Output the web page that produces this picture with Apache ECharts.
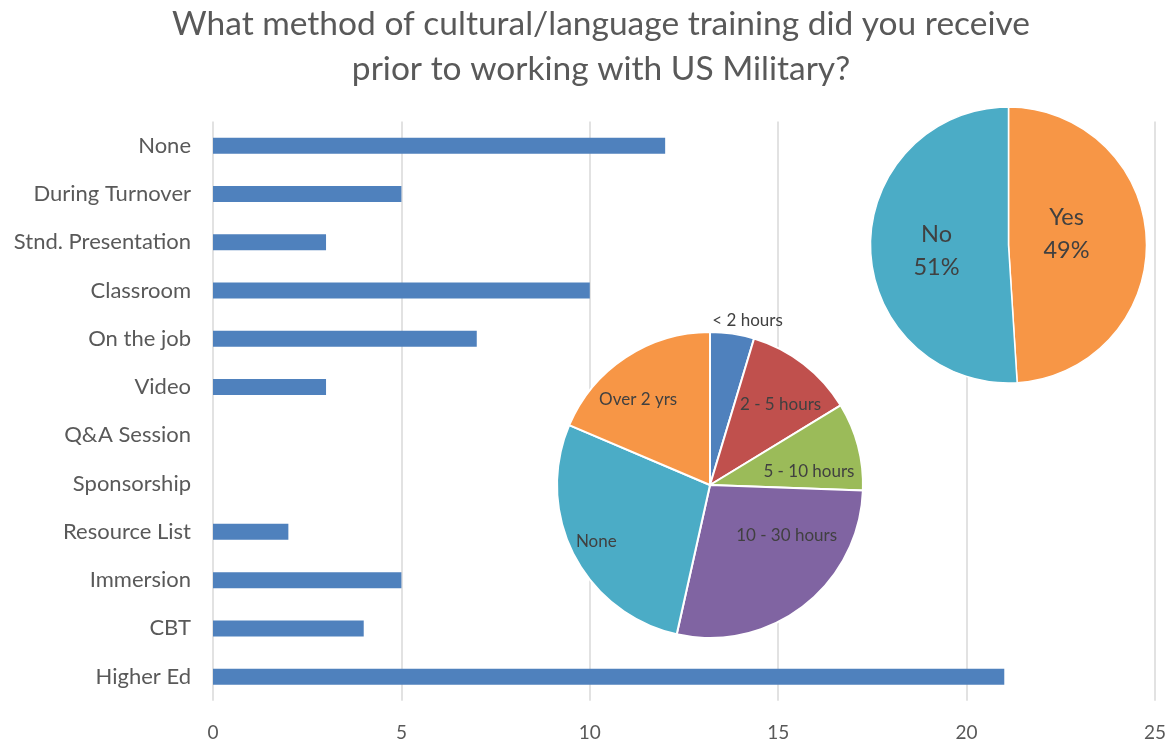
<!DOCTYPE html>
<html>
<head>
<meta charset="utf-8">
<script src="https://cdn.jsdelivr.net/npm/echarts@6/dist/echarts.min.js"></script>
<style>
html,body{margin:0;padding:0;background:#fff;}
#chart{width:1172px;height:744px;}
</style>
</head>
<body>
<div id="chart"></div>
<script>
// Bar chart data (top to bottom)
const methodCategories = ['None','During Turnover','Stnd. Presentation','Classroom','On the job','Video','Q&A Session','Sponsorship','Resource List','Immersion','CBT','Higher Ed'];
const methodCounts = [12,5,3,10,7,3,0,0,2,5,4,21];
const xTicks = [0,5,10,15,20,25];

// Hours pie (clockwise from top)
const hourLabels = ['< 2 hours','2 - 5 hours','5 - 10 hours','10 - 30 hours','None','Over 2 yrs'];
const hourCounts = [2,5,4,12,12,8];

// Yes/No pie (percent)
const ynLabels = ['Yes','No'];
const ynValues = [49,51];

const FONT = 'Lato, "Open Sans", sans-serif';
const hourColors = ['#4F81BD','#C0504D','#9BBB59','#8064A2','#4BACC6','#F79646'];
const hourLabelOffsets = [[26,-86],[22,-18],[22,7],[28,-12],[-43,20],[-28,-19]];
const ynColors = ['#F79646','#4BACC6'];
const ynLabelOffsets = [[-14,-9],[0,4]];

const chart = echarts.init(document.getElementById('chart'), null, {renderer:'canvas'});
chart.setOption({
  animation:false,
  backgroundColor:'#ffffff',
  title:{
    text:'What method of cultural/language training did you receive\nprior to working with US Military?',
    left:596, top:-3, textAlign:'center',
    textStyle:{fontFamily:FONT, fontSize:33.5, fontWeight:'normal', color:'#595959', lineHeight:45}
  },
  grid:{left:213, right:17, top:121.6, bottom:43.2, containLabel:false},
  xAxis:{
    type:'value', min:xTicks[0], max:xTicks[xTicks.length-1], interval:5,
    axisLine:{show:false}, axisTick:{show:false},
    splitLine:{show:true, lineStyle:{color:'#D9D9D9', width:1.5}},
    axisLabel:{fontFamily:FONT, fontSize:19, color:'#595959', margin:23}
  },
  yAxis:{
    type:'category', data:methodCategories, inverse:true,
    axisLine:{show:false}, axisTick:{show:false},
    axisLabel:{fontFamily:FONT, fontSize:22, color:'#595959', margin:22}
  },
  series:[
    {
      type:'bar', data:methodCounts, barWidth:16,
      itemStyle:{color:'#4F81BD'},
      silent:true
    },
    {
      type:'pie', center:[710,485], radius:153, startAngle:90, clockwise:true,
      avoidLabelOverlap:false,
      data:hourLabels.map((n,i)=>({name:n, value:hourCounts[i],
        itemStyle:{color:hourColors[i]},
        label:{offset:hourLabelOffsets[i]}})),
      itemStyle:{borderColor:'#ffffff', borderWidth:2},
      label:{show:true, position:'inside', formatter:'{b}', fontFamily:FONT, fontSize:17, color:'#404040'},
      labelLine:{show:false},
      emphasis:{disabled:true}
    },
    {
      type:'pie', center:[1008.5,245], radius:138, startAngle:90, clockwise:true,
      avoidLabelOverlap:false,
      data:ynLabels.map((n,i)=>({name:n, value:ynValues[i],
        itemStyle:{color:ynColors[i]},
        label:{offset:ynLabelOffsets[i]}})),
      itemStyle:{borderColor:'#ffffff', borderWidth:1.5},
      label:{show:true, position:'inside', formatter:'{b}\n{d}%', fontFamily:FONT, fontSize:23.5, color:'#404040', lineHeight:33},
      labelLine:{show:false},
      emphasis:{disabled:true}
    }
  ]
});
</script>
</body>
</html>
